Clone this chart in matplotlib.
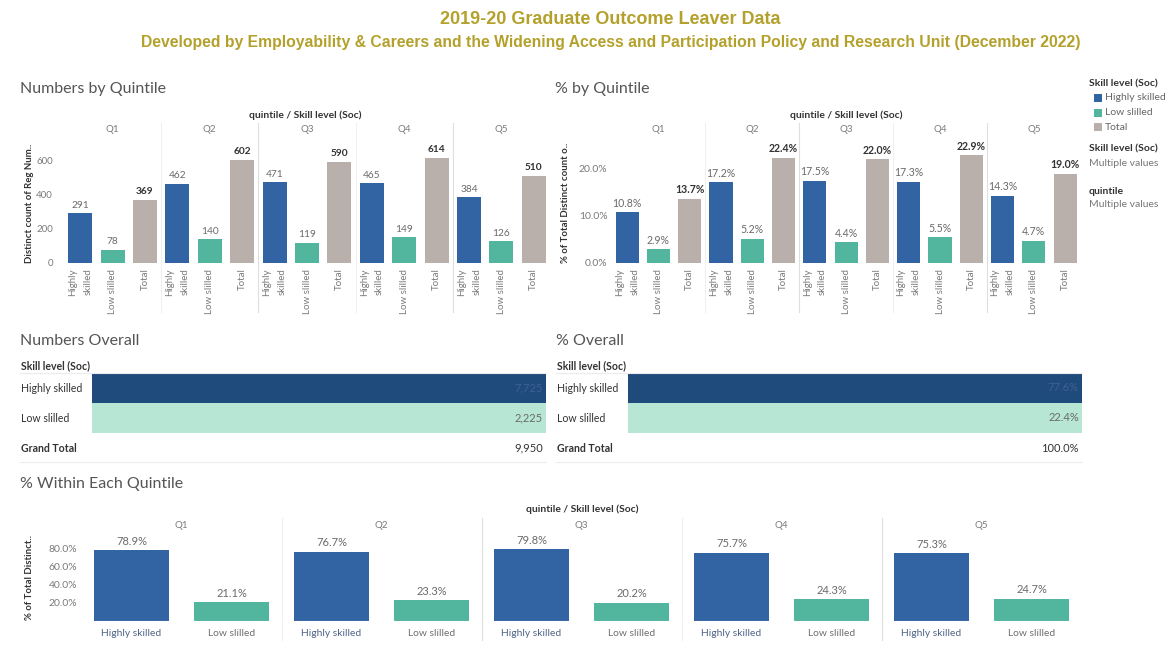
import matplotlib
matplotlib.use("Agg")
import matplotlib.pyplot as plt
from matplotlib.patches import Rectangle
from matplotlib import transforms

# ---- data ----
quintiles = ["Q1", "Q2", "Q3", "Q4", "Q5"]
skill_levels = ["Highly\nskilled", "Low slilled", "Total"]
legend_levels = ["Highly skilled", "Low slilled", "Total"]

hs_count = [291, 462, 471, 465, 384]
ls_count = [78, 140, 119, 149, 126]
total_count = [369, 602, 590, 614, 510]

hs_share = [10.8, 17.2, 17.5, 17.3, 14.3]
ls_share = [2.9, 5.2, 4.4, 5.5, 4.7]
total_share = [13.7, 22.4, 22.0, 22.9, 19.0]

within_levels = ["Highly skilled", "Low slilled"]
hs_within = [78.9, 76.7, 79.8, 75.7, 75.3]
ls_within = [21.1, 23.3, 20.2, 24.3, 24.7]

overall_rows = ["Highly skilled", "Low slilled"]
overall_count = [7725, 2225]
overall_count_total = 9950
overall_pct = [77.6, 22.4]
overall_pct_total = 100.0

count_ticks = [0, 200, 400, 600]
share_ticks = [0, 10, 20]
within_ticks = [20, 40, 60, 80]

# ---- style ----
C_HS = "#3263a3"
C_LS = "#52b59e"
C_TOT = "#b9b0ac"
C_NAVY = "#1f4a7c"
C_MINT = "#b7e6d4"
C_TITLE = "#b4a12c"
C_HEAD = "#555555"
C_TICK = "#7a7a7a"

plt.rcParams["font.family"] = ["Lato", "DejaVu Sans"]

W, H = 1171, 660
fig = plt.figure(figsize=(W / 100, H / 100), dpi=100)
fig.patch.set_facecolor("white")


def ax_px(x0, y0, x1, y1):
    return fig.add_axes([x0 / W, 1 - y1 / H, (x1 - x0) / W, (y1 - y0) / H])


def ftext(x, y, s, **kw):
    kw.setdefault("va", "center")
    return fig.text(x / W, 1 - y / H, s, **kw)


def fy(y):
    return 1 - y / H


def clean(ax):
    for sp in ax.spines.values():
        sp.set_visible(False)
    ax.tick_params(length=0)


# ---- titles ----
ftext(610, 19, "2019-20 Graduate Outcome Leaver Data", ha="center",
      fontsize=13, weight="bold", color=C_TITLE, family="Liberation Sans")
ftext(611, 43, "Developed by Employability & Careers and the Widening Access and "
      "Participation Policy and Research Unit (December 2022)", ha="center",
      fontsize=11.3, weight="bold", color=C_TITLE, family="Liberation Sans")


def quintile_panel(box, series, fmt, ylim, ticks, tick_fmt, tick_size, tick_pad,
                   value_size, ylabel, ylabel_x, title_x):
    ax = ax_px(*box)
    clean(ax)
    colors = [C_HS, C_LS, C_TOT]
    positions, labels = [], []
    for qi in range(len(quintiles)):
        for si, vals in enumerate(series):
            x = qi * 3 + si
            v = vals[qi]
            ax.bar(x, v, width=0.74, color=colors[si])
            is_total = si == 2
            ax.annotate(fmt(v), (x, v), xytext=(0, 2.5), textcoords="offset points",
                        ha="center", va="bottom", fontsize=value_size,
                        color="#333333" if is_total else "#6a6a6a",
                        weight="bold" if is_total else "normal")
            positions.append(x)
            labels.append(skill_levels[si])
    ax.set_xlim(-0.5, len(positions) - 0.5)
    ax.set_ylim(*ylim)
    ax.set_yticks(ticks)
    ax.set_yticklabels([tick_fmt(t) for t in ticks])
    ax.set_xticks(positions)
    ax.set_xticklabels(labels, rotation=90, va="top", ha="center",
                       multialignment="right", linespacing=1.9)
    ax.tick_params(axis="x", labelsize=7, labelcolor=C_TICK, pad=4)
    ax.tick_params(axis="y", labelsize=tick_size, labelcolor=C_TICK, pad=tick_pad)

    blend = transforms.blended_transform_factory(ax.transData, fig.transFigure)
    for qi, q in enumerate(quintiles):
        ax.text(qi * 3 + 1, fy(130), q, transform=blend, ha="center", va="center",
                fontsize=7, color=C_TICK)
    for qi in range(1, len(quintiles)):
        shade = "#dedede" if qi in (2, 4) else "#f0f0f0"
        ax.plot([qi * 3 - 0.5] * 2, [fy(123), fy(312)], transform=blend,
                color=shade, lw=0.8, clip_on=False)
    ftext(title_x, 115, "quintile / Skill level (Soc)", ha="center",
          fontsize=7.4, weight="bold", color="#333333")
    ftext(ylabel_x, 203, ylabel, ha="center", rotation=90, fontsize=6.9,
          weight="bold", color="#333333")
    return ax


# ---- Numbers by Quintile ----
ftext(20, 89, "Numbers by Quintile", fontsize=11.5, color=C_HEAD)
quintile_panel((64, 143, 550, 263), [hs_count, ls_count, total_count],
               lambda v: f"{v:,}", (0, 700), count_ticks, lambda t: f"{t}",
               7, 8, 7.3, "Distinct count of Reg Num..", 29, 305)

# ---- % by Quintile ----
ftext(555, 89, "% by Quintile", fontsize=11.5, color=C_HEAD)
quintile_panel((611.5, 143, 1080.8, 263), [hs_share, ls_share, total_share],
               lambda v: f"{v:.1f}%", (0, 25.5), share_ticks,
               lambda t: f"{t:.1f}%", 7.5, 3, 7.6,
               "% of Total Distinct count o..", 565, 846)

# ---- legend ----
ftext(1089, 84, "Skill level (Soc)", fontsize=7.5, weight="bold", color="#333333")
for i, (lab, col) in enumerate(zip(legend_levels, [C_HS, C_LS, C_TOT])):
    yc = 98 + i * 14.5
    fig.patches.append(Rectangle((1094 / W, fy(yc + 4)), 8 / W, 8 / H,
                                 transform=fig.transFigure, facecolor=col,
                                 edgecolor="none"))
    ftext(1105, yc, lab, fontsize=7.5, color="#666666")
ftext(1089, 149, "Skill level (Soc)", fontsize=7.5, weight="bold", color="#333333")
ftext(1089, 163, "Multiple values", fontsize=7.5, color="#777777")
ftext(1089, 192, "quintile", fontsize=7.5, weight="bold", color="#333333")
ftext(1089, 205, "Multiple values", fontsize=7.5, color="#777777")


# ---- overall highlight tables ----
def overall_table(x_label, x0, x1, title, values, total, fmt):
    ftext(x_label, 341, title, fontsize=11.5, color=C_HEAD)
    ftext(x_label + 1, 366, "Skill level (Soc)", fontsize=7.6, weight="bold",
          color="#333333")
    ax = ax_px(x0, 373, x1, 433)
    clean(ax)
    ax.barh(range(len(values)), [1] * len(values), height=1.0,
            color=[C_NAVY, C_MINT][:len(values)], left=0)
    ax.set_xlim(0, 1)
    ax.set_ylim(len(values) - 0.5, -0.5)
    ax.set_xticks([])
    ax.set_yticks([])
    text_cols = ["#3f628e", "#6a6a6a"]
    for i, v in enumerate(values):
        ax.text(0.993, i, fmt(v), ha="right", va="center", fontsize=8,
                color=text_cols[i])
    for i, lab in enumerate(overall_rows):
        ftext(x_label + 1, 388 + i * 30, lab, fontsize=7.6, color="#333333")
    ftext(x_label + 1, 448, "Grand Total", fontsize=7.6, weight="bold",
          color="#333333")
    ftext(x1 - 3, 448, fmt(total), ha="right", fontsize=8, color="#333333")
    for yl in (373, 462):
        fig.add_artist(plt.Line2D([x_label / W, x1 / W], [fy(yl), fy(yl)],
                                  transform=fig.transFigure, color="#ececec",
                                  lw=0.8))


overall_table(20, 92, 546, "Numbers Overall", overall_count,
              overall_count_total, lambda v: f"{v:,}")
overall_table(556, 628, 1082, "% Overall", overall_pct, overall_pct_total,
              lambda v: f"{v:.1f}%")

# ---- % Within Each Quintile ----
ftext(20, 484, "% Within Each Quintile", fontsize=11.5, color=C_HEAD)
axb = ax_px(81.5, 531, 1081.5, 621)
clean(axb)
positions, labels = [], []
for qi in range(len(quintiles)):
    for si, (vals, col) in enumerate(zip([hs_within, ls_within], [C_HS, C_LS])):
        x = qi * 2 + si
        v = vals[qi]
        axb.bar(x, v, width=0.75, color=col)
        axb.annotate(f"{v:.1f}%", (x, v), xytext=(0, 2.5),
                     textcoords="offset points", ha="center", va="bottom",
                     fontsize=8, color="#6a6a6a")
        positions.append(x)
        labels.append(within_levels[si])
axb.set_xlim(-0.5, len(positions) - 0.5)
axb.set_ylim(0, 100)
axb.set_yticks(within_ticks)
axb.set_yticklabels([f"{t:.1f}%" for t in within_ticks])
axb.set_xticks(positions)
axb.set_xticklabels(labels)
for i, tl in enumerate(axb.get_xticklabels()):
    tl.set_color("#4f6386" if i % 2 == 0 else "#6f6f6f")
axb.tick_params(axis="x", labelsize=7.4, pad=6)
axb.tick_params(axis="y", labelsize=7.5, labelcolor=C_TICK, pad=3)
axb.axhline(0, color="#eeeeee", lw=0.8)
blend_b = transforms.blended_transform_factory(axb.transData, fig.transFigure)
for qi, q in enumerate(quintiles):
    axb.text(qi * 2 + 0.5, fy(525), q, transform=blend_b, ha="center",
             va="center", fontsize=7, color=C_TICK)
for qi in range(1, len(quintiles)):
    shade = "#dedede" if qi in (2, 4) else "#f0f0f0"
    axb.plot([qi * 2 - 0.5] * 2, [fy(518), fy(640)], transform=blend_b,
             color=shade, lw=0.8, clip_on=False)
ftext(582, 509, "quintile / Skill level (Soc)", ha="center", fontsize=7.4,
      weight="bold", color="#333333")
ftext(30, 578, "% of Total Distinct..", ha="center", rotation=90, fontsize=6.9,
      weight="bold", color="#333333")

fig.savefig("out.png", dpi=100)
